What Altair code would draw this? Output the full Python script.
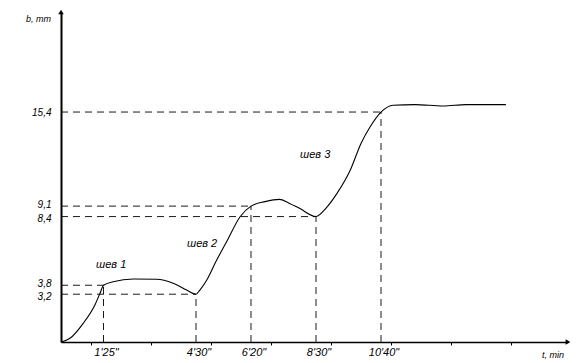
import altair as alt
import pandas as pd

# ---- data ----
curve_t = [0, 0.3, 0.74, 1.13, 1.3, 1.417, 1.74, 2.41, 3.19, 3.74, 4.19, 4.5,
           4.63, 4.86, 5.19, 5.52, 5.97, 6.333, 6.8, 7.28, 7.6, 7.95, 8.5,
           8.85, 9.2, 9.64, 10.0, 10.3, 10.667, 11.07, 11.8, 12.74, 13.5, 14.83]
curve_b = [0, 0.25, 1.25, 2.48, 3.26, 3.8, 4.04, 4.22, 4.2, 3.93, 3.48, 3.2,
           3.48, 4.15, 5.49, 6.71, 8.39, 9.1, 9.4, 9.55, 9.3, 8.95, 8.4,
           9.0, 9.95, 11.5, 13.3, 14.4, 15.4, 15.86, 15.9, 15.8, 15.9, 15.9]

mark_t = [1.417, 4.5, 6.333, 8.5, 10.667]
mark_b = [3.8, 3.2, 9.1, 8.4, 15.4]
mark_t_labels = ["1'25\"", "4'30\"", "6'20\"", "8'30\"", "10'40\""]
y_label_values = [3.2, 3.8, 8.4, 9.1, 15.4]
x_tick_values = list(range(1, 17))

step_text = ["шев 1", "шев 2", "шев 3"]
step_t = [1.17, 4.2, 7.97]
step_b = [5.15, 6.56, 12.5]

X_MAX = 16.9
Y_MAX = 22.1

FONT = "Liberation Sans"

curve_df = pd.DataFrame({"t": curve_t, "b": curve_b})
marks_df = pd.DataFrame({"t": mark_t, "b": mark_b, "zero_t": [0] * 5, "zero_b": [0] * 5,
                         "lab": mark_t_labels})
steps_df = pd.DataFrame({"t": step_t, "b": step_b, "txt": step_text})

xs = alt.Scale(domain=[0, X_MAX], nice=False, zero=True)
ys = alt.Scale(domain=[0, Y_MAX], nice=False, zero=True)

base_x = alt.X("t:Q", scale=xs,
               axis=alt.Axis(values=x_tick_values, labels=False, title=None, grid=False,
                             domainColor="black", domainWidth=1.5, tickColor="black",
                             tickSize=3, tickWidth=1))
base_y = alt.Y("b:Q", scale=ys,
               axis=alt.Axis(values=y_label_values, title=None, grid=False, ticks=False,
                             domainColor="black", domainWidth=2, labelOverlap=False,
                             labelExpr="replace(format(datum.value, '.1f'), '.', ',')",
                             labelOffset={"expr": "datum.value == 3.8 || datum.value == 9.1 ? -2 : (datum.value == 3.2 || datum.value == 8.4 ? 2 : 0)"},
                             labelFont=FONT, labelFontStyle="italic", labelFontSize=10,
                             labelColor="black", labelPadding=10))

curve = alt.Chart(curve_df).mark_line(interpolate="monotone", color="black",
                                      strokeWidth=1.1).encode(x=base_x, y=base_y)

hdash = alt.Chart(marks_df).mark_rule(color="black", strokeWidth=0.9,
                                      strokeDash=[7, 5]).encode(
    x=alt.X("zero_t:Q", scale=xs), x2="t:Q", y=alt.Y("b:Q", scale=ys))
vdash = alt.Chart(marks_df).mark_rule(color="black", strokeWidth=0.9,
                                      strokeDash=[7, 5]).encode(
    x=alt.X("t:Q", scale=xs), y=alt.Y("zero_b:Q", scale=ys), y2="b:Q")

xlabels = alt.Chart(marks_df).mark_text(font=FONT, fontStyle="italic", fontSize=11,
                                        baseline="top", dy=5, dx=3, color="black").encode(
    x=alt.X("t:Q", scale=xs), y=alt.Y("zero_b:Q", scale=ys), text="lab:N")

steps = alt.Chart(steps_df).mark_text(font=FONT, fontStyle="italic", fontSize=11,
                                      align="left", color="black").encode(
    x=alt.X("t:Q", scale=xs), y=alt.Y("b:Q", scale=ys), text="txt:N")

arrow_df = pd.DataFrame({"t": [0, X_MAX], "b": [Y_MAX, 0],
                         "shape": ["triangle-up", "triangle-right"]})
arrows = alt.Chart(arrow_df).mark_point(filled=True, color="black", size=30,
                                        opacity=1).encode(
    x=alt.X("t:Q", scale=xs), y=alt.Y("b:Q", scale=ys),
    shape=alt.Shape("shape:N", scale=None, legend=None))

title_df = pd.DataFrame({"t": [0, X_MAX], "b": [21.6, 0], "txt": ["b, mm", "t, min"]})
ytitle = alt.Chart(title_df.iloc[[0]]).mark_text(font=FONT, fontStyle="italic", fontSize=9,
                                                 align="right", dx=-10, color="black").encode(
    x=alt.X("t:Q", scale=xs), y=alt.Y("b:Q", scale=ys), text="txt:N")
xtitle = alt.Chart(title_df.iloc[[1]]).mark_text(font=FONT, fontStyle="italic", fontSize=9,
                                                 align="right", dx=-4, dy=13,
                                                 color="black").encode(
    x=alt.X("t:Q", scale=xs), y=alt.Y("b:Q", scale=ys), text="txt:N")

chart = alt.layer(curve, hdash, vdash, xlabels, steps, arrows, ytitle, xtitle).properties(
    width=507, height=330,
    autosize=alt.AutoSizeParams(type="none"),
    padding={"left": 53, "top": 4, "right": 5, "bottom": 21},
    background="white",
).configure_view(stroke=None)

chart.save("out.html", embed_options={"renderer": "svg", "actions": False})
